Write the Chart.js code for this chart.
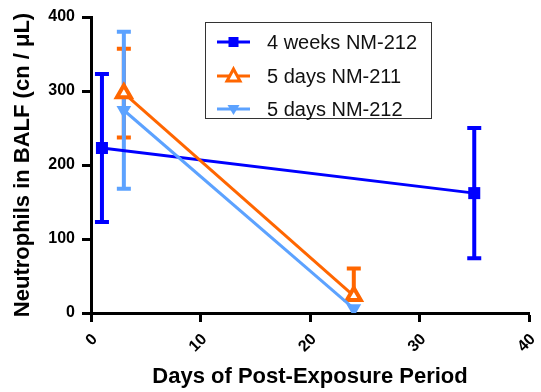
<!DOCTYPE html>
<html>
<head>
<meta charset="utf-8">
<script src="https://cdn.jsdelivr.net/npm/chart.js@4"></script>
<style>
  html, body { margin: 0; padding: 0; background: #fff; }
  #wrap { width: 541px; height: 392px; }
</style>
</head>
<body>
<div id="wrap"><canvas id="c" width="541" height="392"></canvas></div>
<script>
// ---- data ----
const seriesNames = ['4 weeks NM-212', '5 days NM-211', '5 days NM-212'];
const days1 = [1, 35];
const vals1 = [223, 162];
const errUp1 = [100, 88];
const errDown1 = [100, 88];

const days2 = [3, 24];
const vals2 = [297, 23];
const errUp2 = [60, 37];
const errDown2 = [60, 0];

const days3 = [3, 24];
const vals3 = [274, 6];
const errUp3 = [106, 0];
const errDown3 = [106, 0];

const xTicks = [0, 10, 20, 30, 40];
const yTicks = [0, 100, 200, 300, 400];

const colors = ['#0000ff', '#ff6600', '#5ca2ff'];
const FONT = "'Liberation Sans', Arial, sans-serif";

function pts(xs, ys) { return xs.map((x, i) => ({ x: x, y: ys[i] })); }

const errorSets = [
  { up: errUp1, down: errDown1 },
  { up: errUp2, down: errDown2 },
  { up: errUp3, down: errDown3 }
];

const errorBarPlugin = {
  id: 'errorBars',
  beforeDatasetsDraw(chart) {
    const ctx = chart.ctx;
    const xs = chart.scales.x, ys = chart.scales.y;
    chart.data.datasets.forEach((ds, di) => {
      const e = errorSets[di];
      ctx.save();
      ctx.strokeStyle = colors[di];
      ctx.lineWidth = 4;
      ctx.lineCap = 'butt';
      ds.data.forEach((p, i) => {
        const px = xs.getPixelForValue(p.x);
        const top = ys.getPixelForValue(p.y + e.up[i]);
        const bot = ys.getPixelForValue(p.y - e.down[i]);
        const mid = ys.getPixelForValue(p.y);
        const hw = 7;
        ctx.beginPath();
        if (e.up[i] > 0) {
          ctx.moveTo(px, mid); ctx.lineTo(px, top);
          ctx.moveTo(px - hw, top); ctx.lineTo(px + hw, top);
        }
        if (e.down[i] > 0) {
          ctx.moveTo(px, mid); ctx.lineTo(px, bot);
          ctx.moveTo(px - hw, bot); ctx.lineTo(px + hw, bot);
        }
        ctx.stroke();
      });
      ctx.restore();
    });
  }
};

function drawMarker(ctx, kind, x, y, color) {
  ctx.save();
  if (kind === 0) {
    ctx.fillStyle = color;
    ctx.fillRect(x - 5, y - 5, 10, 10);
  } else if (kind === 1) {
    ctx.beginPath();
    ctx.moveTo(x, y - 7); ctx.lineTo(x + 6.5, y + 5); ctx.lineTo(x - 6.5, y + 5); ctx.closePath();
    ctx.fillStyle = '#fff'; ctx.fill();
    ctx.strokeStyle = color; ctx.lineWidth = 3; ctx.stroke();
  } else {
    ctx.beginPath();
    ctx.moveTo(x, y + 6); ctx.lineTo(x + 6, y - 4); ctx.lineTo(x - 6, y - 4); ctx.closePath();
    ctx.fillStyle = color; ctx.fill();
  }
  ctx.restore();
}

const legendPlugin = {
  id: 'prismLegend',
  afterDraw(chart) {
    const ctx = chart.ctx;
    ctx.save();
    ctx.strokeStyle = '#333';
    ctx.lineWidth = 1;
    ctx.strokeRect(205.5, 22.5, 226, 96);
    const rows = [42, 76, 109];
    ctx.font = '20px ' + FONT;
    ctx.textBaseline = 'middle';
    ctx.textAlign = 'left';
    seriesNames.forEach((name, i) => {
      const y = rows[i];
      ctx.strokeStyle = colors[i];
      ctx.lineWidth = 3;
      ctx.beginPath(); ctx.moveTo(217, y); ctx.lineTo(250, y); ctx.stroke();
      drawMarker(ctx, i, 233.5, y, colors[i]);
      ctx.fillStyle = '#111';
      ctx.fillText(name, 267, y + 1);
    });
    ctx.restore();
  }
};

const tickFont = { family: FONT, size: 16, weight: 'bold' };
const titleFont = { family: FONT, size: 22, weight: 'bold' };

new Chart(document.getElementById('c'), {
  type: 'scatter',
  data: {
    datasets: [
      { label: seriesNames[0], data: pts(days1, vals1), showLine: true,
        borderColor: colors[0], backgroundColor: colors[0], borderWidth: 3,
        pointStyle: 'rect', pointRadius: 8.5, pointHoverRadius: 8.5, pointBorderWidth: 0, order: 3 },
      { label: seriesNames[1], data: pts(days2, vals2), showLine: true,
        borderColor: colors[1], backgroundColor: '#ffffff', borderWidth: 3,
        pointStyle: 'triangle', pointRadius: 8, pointHoverRadius: 8, pointBorderWidth: 4,
        pointBorderColor: colors[1], pointBackgroundColor: '#ffffff', order: 2 },
      { label: seriesNames[2], data: pts(days3, vals3), showLine: true,
        borderColor: colors[2], backgroundColor: colors[2], borderWidth: 3,
        pointStyle: 'triangle', rotation: 180, pointRotation: 180, pointRadius: 8.5, pointHoverRadius: 8.5,
        pointBorderWidth: 0, order: 1 }
    ]
  },
  options: {
    responsive: false,
    animation: false,
    events: [],
    layout: { padding: { top: 17, right: 6, left: 0, bottom: 0 } },
    plugins: { legend: { display: false }, tooltip: { enabled: false } },
    scales: {
      x: {
        type: 'linear', min: 0, max: 40,
        afterBuildTicks: s => { s.ticks = xTicks.map(v => ({ value: v })); },
        ticks: { font: tickFont, color: '#000', minRotation: 45, maxRotation: 45, padding: 8, labelOffset: 4 },
        grid: { drawOnChartArea: false, drawTicks: true, tickLength: 9, tickWidth: 3, tickColor: '#000' },
        border: { display: true, width: 3, color: '#000' },
        title: { display: true, text: 'Days of Post-Exposure Period', font: titleFont, color: '#000',
                 padding: { top: 0, bottom: 2 } },
        afterFit: s => { s.height = 79; s.paddingRight = 0; s.paddingLeft = 0; }
      },
      y: {
        type: 'linear', min: 0, max: 400,
        afterBuildTicks: s => { s.ticks = yTicks.map(v => ({ value: v })); },
        ticks: { font: tickFont, color: '#000', padding: 7 },
        grid: { drawOnChartArea: false, drawTicks: true, tickLength: 9, tickWidth: 3, tickColor: '#000' },
        border: { display: true, width: 3, color: '#000' },
        title: { display: true, text: 'Neutrophils in BALF (cn / μL)', font: titleFont, color: '#000',
                 padding: { top: 10, bottom: 0 } },
        afterFit: s => { s.width = 91; s.paddingTop = 0; s.paddingBottom = 0; }
      }
    }
  },
  plugins: [errorBarPlugin, legendPlugin]
});
</script>
</body>
</html>
